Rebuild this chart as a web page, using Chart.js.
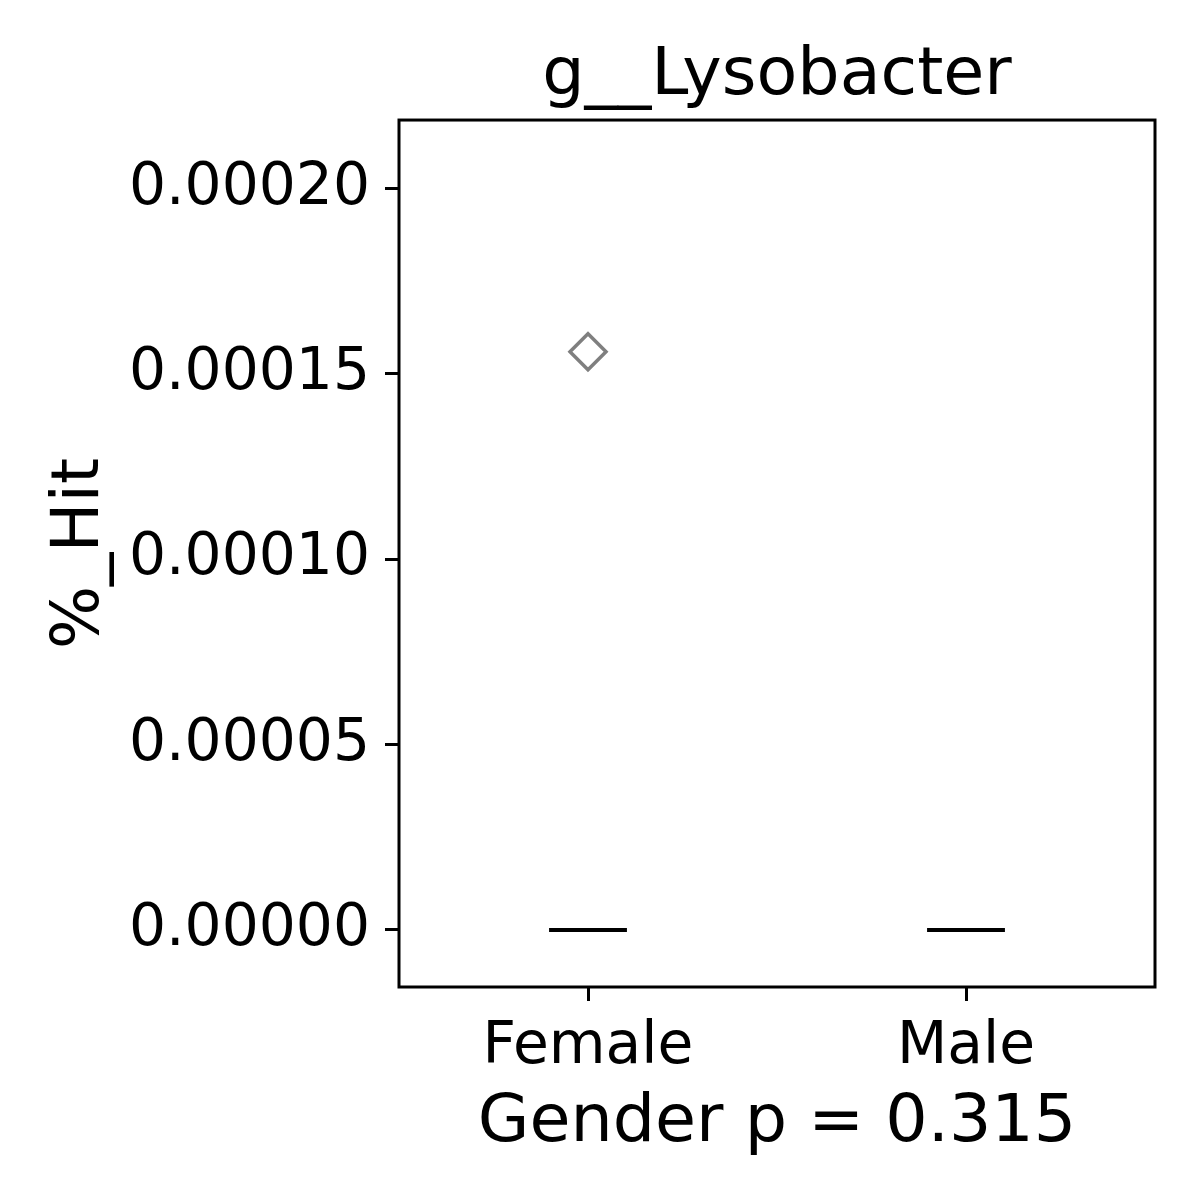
<!DOCTYPE html>
<html>
<head>
<meta charset="utf-8">
<script src="https://cdn.jsdelivr.net/npm/chart.js@4/dist/chart.umd.min.js"></script>
<style>
  html, body { margin: 0; padding: 0; background: #ffffff; }
  #wrap { width: 1200px; height: 1200px; }
</style>
</head>
<body>
<div id="wrap"><canvas id="c" width="1200" height="1200"></canvas></div>
<script>
// ---- data ----
const title = "g__Lysobacter";
const xTitle = "Gender p = 0.315";
const yTitle = "%_Hit";
const categories = ["Female", "Male"];
const q1 = [0, 0];
const median = [0, 0];
const q3 = [0, 0];
const whiskerLow = [0, 0];
const whiskerHigh = [0, 0];
const outliers = [[0.000156], []];
const yTicks = [0, 0.00005, 0.0001, 0.00015, 0.0002];
const yTickLabels = ["0.00000", "0.00005", "0.00010", "0.00015", "0.00020"];
const yMin = -0.0000154;
const yMax = 0.0002185;

// ---- build datasets ----
const halfW = 0.103;
const datasets = [];
categories.forEach((c, i) => {
  datasets.push({
    type: 'line',
    label: c + ' median',
    data: [{x: i - halfW, y: median[i]}, {x: i + halfW, y: median[i]}],
    borderColor: '#000000',
    borderWidth: 4,
    pointRadius: 0,
    fill: false
  });
});
const outlierPts = [];
outliers.forEach((arr, i) => arr.forEach(v => outlierPts.push({x: i, y: v})));
datasets.push({
  type: 'scatter',
  label: 'outliers',
  data: outlierPts,
  pointStyle: 'rectRot',
  pointRadius: 18,
  pointBorderWidth: 3.5,
  pointBorderColor: '#7f7f7f',
  pointBackgroundColor: 'rgba(255,255,255,0)'
});

const framePlugin = {
  id: 'frame',
  afterDraw(chart) {
    const a = chart.chartArea;
    const ctx = chart.ctx;
    ctx.save();
    ctx.strokeStyle = '#000000';
    ctx.lineWidth = 3;
    ctx.strokeRect(a.left, a.top, a.right - a.left, a.bottom - a.top);
    ctx.restore();
  }
};

Chart.defaults.font.family = "'DejaVu Sans', sans-serif";
Chart.defaults.color = '#000000';

new Chart(document.getElementById('c'), {
  type: 'scatter',
  data: { datasets },
  plugins: [framePlugin],
  options: {
    responsive: false,
    animation: false,
    devicePixelRatio: 1,
    layout: { padding: { left: 0, right: 45, top: 0, bottom: 0 } },
    plugins: {
      legend: { display: false },
      tooltip: { enabled: false },
      title: {
        display: true,
        text: title,
        fullSize: false,
        font: { size: 66.7, weight: 'normal', lineHeight: 1.2 },
        color: '#000000',
        padding: { top: 37, bottom: 3 }
      }
    },
    scales: {
      x: {
        type: 'linear',
        min: -0.5,
        max: 1.5,
        afterBuildTicks(scale) { scale.ticks = categories.map((c, i) => ({ value: i })); },
        afterFit(scale) { scale.height = 213; },
        ticks: {
          autoSkip: false,
          maxRotation: 0,
          padding: 12,
          font: { size: 58.3 },
          color: '#000000',
          callback: (v) => categories[v]
        },
        grid: { display: true, drawOnChartArea: false, drawTicks: true, tickLength: 14, tickWidth: 3, tickColor: '#000000' },
        border: { display: false },
        title: {
          display: true,
          text: xTitle,
          font: { size: 66.7, lineHeight: 1.2 },
          color: '#000000',
          padding: { top: 36, bottom: 36 }
        }
      },
      y: {
        type: 'linear',
        min: yMin,
        max: yMax,
        afterBuildTicks(scale) { scale.ticks = yTicks.map(v => ({ value: v })); },
        afterFit(scale) { scale.width = 399; },
        ticks: {
          autoSkip: false,
          padding: 15,
          font: { size: 58.3 },
          color: '#000000',
          callback: (v) => { const k = yTicks.indexOf(v); return k >= 0 ? yTickLabels[k] : ''; }
        },
        grid: { display: true, drawOnChartArea: false, drawTicks: true, tickLength: 14, tickWidth: 3, tickColor: '#000000' },
        border: { display: false },
        title: {
          display: true,
          text: yTitle,
          font: { size: 66.7, lineHeight: 1.2 },
          color: '#000000',
          padding: { top: 41, bottom: 41 }
        }
      }
    }
  }
});
</script>
</body>
</html>
